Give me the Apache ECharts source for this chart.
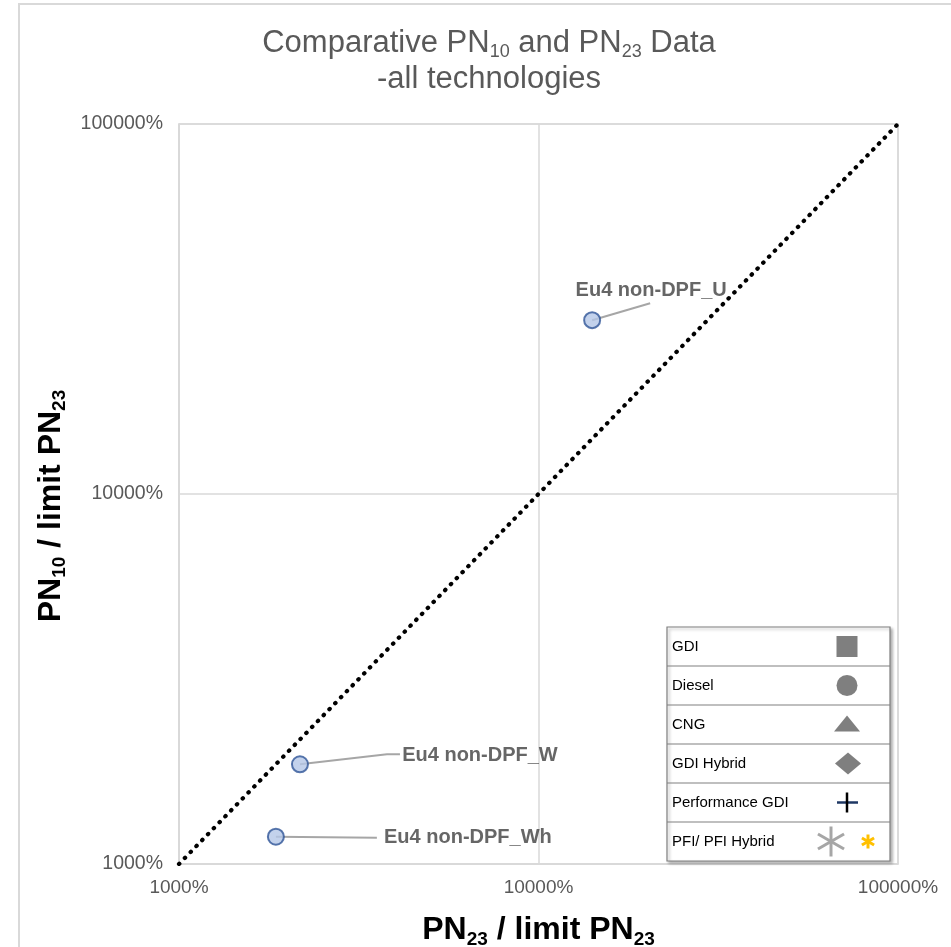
<!DOCTYPE html>
<html>
<head>
<meta charset="utf-8">
<script src="https://cdn.jsdelivr.net/npm/echarts@6/dist/echarts.min.js"></script>
<style>
html,body{margin:0;padding:0;background:#fff;}
#chart{width:951px;height:947px;}
</style>
</head>
<body>
<div id="chart"></div>
<script>
// ---- data ----
var pointNames = ['Eu4 non-DPF_U', 'Eu4 non-DPF_W', 'Eu4 non-DPF_Wh'];
var pn23Pct = [14100, 2170, 1860];   // x: PN23 / limit PN23 (%)
var pn10Pct = [29500, 1860, 1185];   // y: PN10 / limit PN23 (%)
var parityLine = [1000, 100000];     // 1:1 line end values (%)
var xTicks = [1000, 10000, 100000];
var yTicks = [1000, 10000, 100000];
var legendNames = ['GDI', 'Diesel', 'CNG', 'GDI Hybrid', 'Performance GDI', 'PFI/ PFI Hybrid'];

var FONT = '"Liberation Sans", Arial, sans-serif';

var chart = echarts.init(document.getElementById('chart'), null, {renderer: 'canvas'});

var scatterData = pointNames.map(function (n, i) { return {name: n, value: [pn23Pct[i], pn10Pct[i]]}; });
// label offsets (px) from the point, and leader-line bend points relative to the point
var labelShift = [[59, -30], [180, -9], [192, 1]];
var leaderPts = [[[58, -17]], [[87, -10], [100, -10]], [[101, 1]]];

// legend table graphics
var g = [];
g.push({type: 'rect', shape: {x: 19, y: 4, width: 960, height: 990}, style: {fill: 'none', stroke: '#d9d9d9', lineWidth: 2}, z: 0, silent: true});
var lx = 667, ly = 627, lw = 223, rh = 39;
g.push({type: 'rect', shape: {x: lx, y: ly, width: lw, height: rh * 6}, style: {fill: '#fff', stroke: '#808080', lineWidth: 1.2, shadowBlur: 3, shadowOffsetX: 2, shadowOffsetY: 2, shadowColor: 'rgba(0,0,0,0.3)'}, z: 10});
legendNames.forEach(function (n, i) {
  if (i > 0) g.push({type: 'line', shape: {x1: lx, y1: ly + i * rh, x2: lx + lw, y2: ly + i * rh}, style: {stroke: '#808080', lineWidth: 1.2}, z: 11});
  g.push({type: 'text', x: lx + 5, y: ly + i * rh + rh / 2, style: {text: n, font: '15px ' + FONT, fill: '#000', verticalAlign: 'middle', textAlign: 'left'}, z: 12});
});
var mx = 847, grey = '#7f7f7f';
g.push({type: 'rect', shape: {x: mx - 10.5, y: ly + rh * 0.5 - 10.5, width: 21, height: 21}, style: {fill: grey}, z: 12});
g.push({type: 'circle', shape: {cx: mx, cy: ly + rh * 1.5, r: 10.5}, style: {fill: grey}, z: 12});
g.push({type: 'polygon', shape: {points: [[mx, ly + rh * 2.5 - 9], [mx - 13, ly + rh * 2.5 + 7], [mx + 13, ly + rh * 2.5 + 7]]}, style: {fill: grey}, z: 12});
g.push({type: 'polygon', shape: {points: [[mx + 1, ly + rh * 3.5 - 11], [mx + 14, ly + rh * 3.5], [mx + 1, ly + rh * 3.5 + 11], [mx - 12, ly + rh * 3.5]]}, style: {fill: grey}, z: 12});
var pcy = ly + rh * 4.5;
g.push({type: 'line', shape: {x1: mx - 10, y1: pcy, x2: mx + 11, y2: pcy}, style: {stroke: '#1f3864', lineWidth: 2.5}, z: 12});
g.push({type: 'line', shape: {x1: mx, y1: pcy - 10, x2: mx, y2: pcy + 10}, style: {stroke: '#000', lineWidth: 2.5}, z: 12});
function asterisk(cx, cy, r, color, w) {
  [[0, -r, 0, r], [-r * 0.87, -r * 0.5, r * 0.87, r * 0.5], [-r * 0.87, r * 0.5, r * 0.87, -r * 0.5]].forEach(function (s) {
    g.push({type: 'line', shape: {x1: cx + s[0], y1: cy + s[1], x2: cx + s[2], y2: cy + s[3]}, style: {stroke: color, lineWidth: w}, z: 12});
  });
}
asterisk(831, ly + rh * 5.5, 15, '#a6a6a6', 3);
asterisk(868, ly + rh * 5.5, 7, '#ffc000', 3);

var nameRich = {
  m: {fontFamily: FONT, fontWeight: 'bold', fontSize: 32, color: '#000', lineHeight: 38},
  s: {fontFamily: FONT, fontWeight: 'bold', fontSize: 19, color: '#000', lineHeight: 18, verticalAlign: 'bottom'}
};

var option = {
  backgroundColor: '#fff',
  animation: false,
  title: {
    text: '{m|Comparative PN}{s|10}{m| and PN}{s|23}{m| Data}\n{m|-all technologies}',
    left: 484, top: 20, textAlign: 'center',
    textStyle: {
      fontWeight: 'normal',
      rich: {
        m: {fontFamily: FONT, fontWeight: 'normal', fontSize: 31, color: '#595959', lineHeight: 36},
        s: {fontFamily: FONT, fontWeight: 'normal', fontSize: 18, color: '#595959', lineHeight: 18, verticalAlign: 'bottom'}
      }
    }
  },
  grid: {left: 179, right: 53, top: 124, bottom: 83, show: true, borderColor: '#d9d9d9', borderWidth: 1.5, containLabel: false, outerBoundsMode: 'none'},
  xAxis: {
    type: 'log', logBase: 10, min: xTicks[0], max: xTicks[xTicks.length - 1],
    axisLine: {show: true, lineStyle: {color: '#d9d9d9', width: 1.5}},
    axisTick: {show: false},
    minorTick: {show: false},
    splitLine: {show: true, lineStyle: {color: '#d9d9d9', width: 1.5}},
    axisLabel: {formatter: function (v) { return Math.round(v) + '%'; }, fontFamily: FONT, fontSize: 19, color: '#595959', margin: 14},
    name: '{m|PN}{s|23}{m| / limit PN}{s|23}',
    nameLocation: 'middle', nameGap: 47,
    nameTextStyle: {rich: nameRich}
  },
  yAxis: {
    type: 'log', logBase: 10, min: yTicks[0], max: yTicks[yTicks.length - 1],
    axisLine: {show: true, lineStyle: {color: '#d9d9d9', width: 1.5}},
    axisTick: {show: false},
    minorTick: {show: false},
    splitLine: {show: true, lineStyle: {color: '#d9d9d9', width: 1.5}},
    axisLabel: {formatter: function (v) { return Math.round(v) + '%'; }, fontFamily: FONT, fontSize: 19.5, color: '#595959', margin: 16},
    name: '{m|PN}{s|10}{m| / limit PN}{s|23}',
    nameLocation: 'middle', nameGap: 108, nameRotate: 90,
    nameTextStyle: {rich: nameRich, padding: [0, 24, 0, 0]}
  },
  series: [
    {
      type: 'line',
      data: [[parityLine[0], parityLine[0]], [parityLine[1], parityLine[1]]],
      symbol: 'none',
      lineStyle: {color: '#000', width: 4.2, type: [0.5, 7.8], cap: 'round'},
      z: 2, silent: true
    },
    {
      type: 'custom',
      data: scatterData,
      silent: true,
      z: 4,
      renderItem: function (params, api) {
        var p = api.coord([api.value(0), api.value(1)]);
        var pts = [[p[0], p[1]]].concat(leaderPts[params.dataIndex].map(function (d) { return [p[0] + d[0], p[1] + d[1]]; }));
        return {type: 'polyline', shape: {points: pts}, style: {stroke: '#a6a6a6', lineWidth: 2, fill: null}};
      }
    },
    {
      type: 'scatter',
      data: scatterData,
      symbol: 'circle', symbolSize: 16,
      itemStyle: {color: '#b4c7e7', borderColor: '#2f5597', borderWidth: 2},
      label: {show: true, position: 'inside', formatter: '{b}', fontFamily: FONT, fontWeight: 'bold', fontSize: 20, color: '#404040'},
      labelLayout: function (p) { var s = labelShift[p.dataIndex]; return {dx: s[0], dy: s[1]}; },
      z: 5
    }
  ],
  graphic: g
};
chart.setOption(option);
</script>
</body>
</html>
